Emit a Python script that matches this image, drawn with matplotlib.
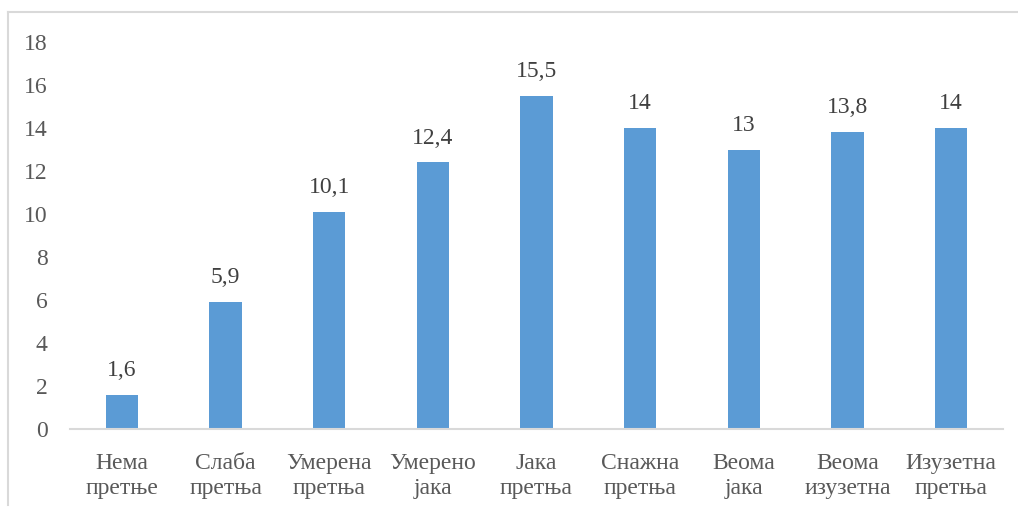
import matplotlib
matplotlib.use("Agg")
import matplotlib.pyplot as plt
from matplotlib.lines import Line2D

categories = ["Нема\nпретње", "Слаба\nпретња", "Умерена\nпретња", "Умерено\nјака",
              "Јака\nпретња", "Снажна\nпретња", "Веома\nјака", "Веома\nизузетна",
              "Изузетна\nпретња"]
values = [1.6, 5.9, 10.1, 12.4, 15.5, 14, 13, 13.8, 14]
labels = ["1,6", "5,9", "10,1", "12,4", "15,5", "14", "13", "13,8", "14"]
yticks = [0, 2, 4, 6, 8, 10, 12, 14, 16, 18]

plt.rcParams['font.family'] = ['Liberation Serif', 'DejaVu Serif']

W, H = 1018, 509
FS = 17
fig = plt.figure(figsize=(W / 100, H / 100), dpi=100)
ax = fig.add_axes([70 / W, (H - 429) / H, (1003 - 70) / W, (429 - 42) / H])

x = list(range(len(categories)))
bars = ax.bar(x, values, width=0.31, color="#5B9BD5", zorder=2)

for xi, v, lab in zip(x, values, labels):
    ax.annotate(lab, (xi, v), xytext=(0, 10), textcoords="offset points",
                ha="center", va="bottom", fontsize=FS, color="#404040")

ax.set_xlim(-0.5, len(categories) - 0.5)
ax.set_ylim(0, 18)
ax.set_yticks(yticks)
ax.set_yticklabels([str(t) for t in yticks])
ax.set_xticks(x)
ax.set_xticklabels(categories)
for t in ax.get_xticklabels():
    t.set_linespacing(1.3)

for s in ["top", "right", "left"]:
    ax.spines[s].set_visible(False)
ax.spines["bottom"].set_color("#D9D9D9")
ax.spines["bottom"].set_linewidth(1.5)
ax.tick_params(axis="both", length=0, labelsize=FS, colors="#595959")
ax.tick_params(axis="y", pad=16)
ax.tick_params(axis="x", pad=17)

# outer chart frame (top and left edges visible)
fig.add_artist(Line2D([8 / W, 1.0], [1 - 12 / H, 1 - 12 / H], color="#D9D9D9",
                      linewidth=1.5, transform=fig.transFigure))
fig.add_artist(Line2D([8 / W, 8 / W], [1 - 12 / H, 1 - 505 / H], color="#D9D9D9",
                      linewidth=1.5, transform=fig.transFigure))

fig.savefig("out.png", dpi=100)
